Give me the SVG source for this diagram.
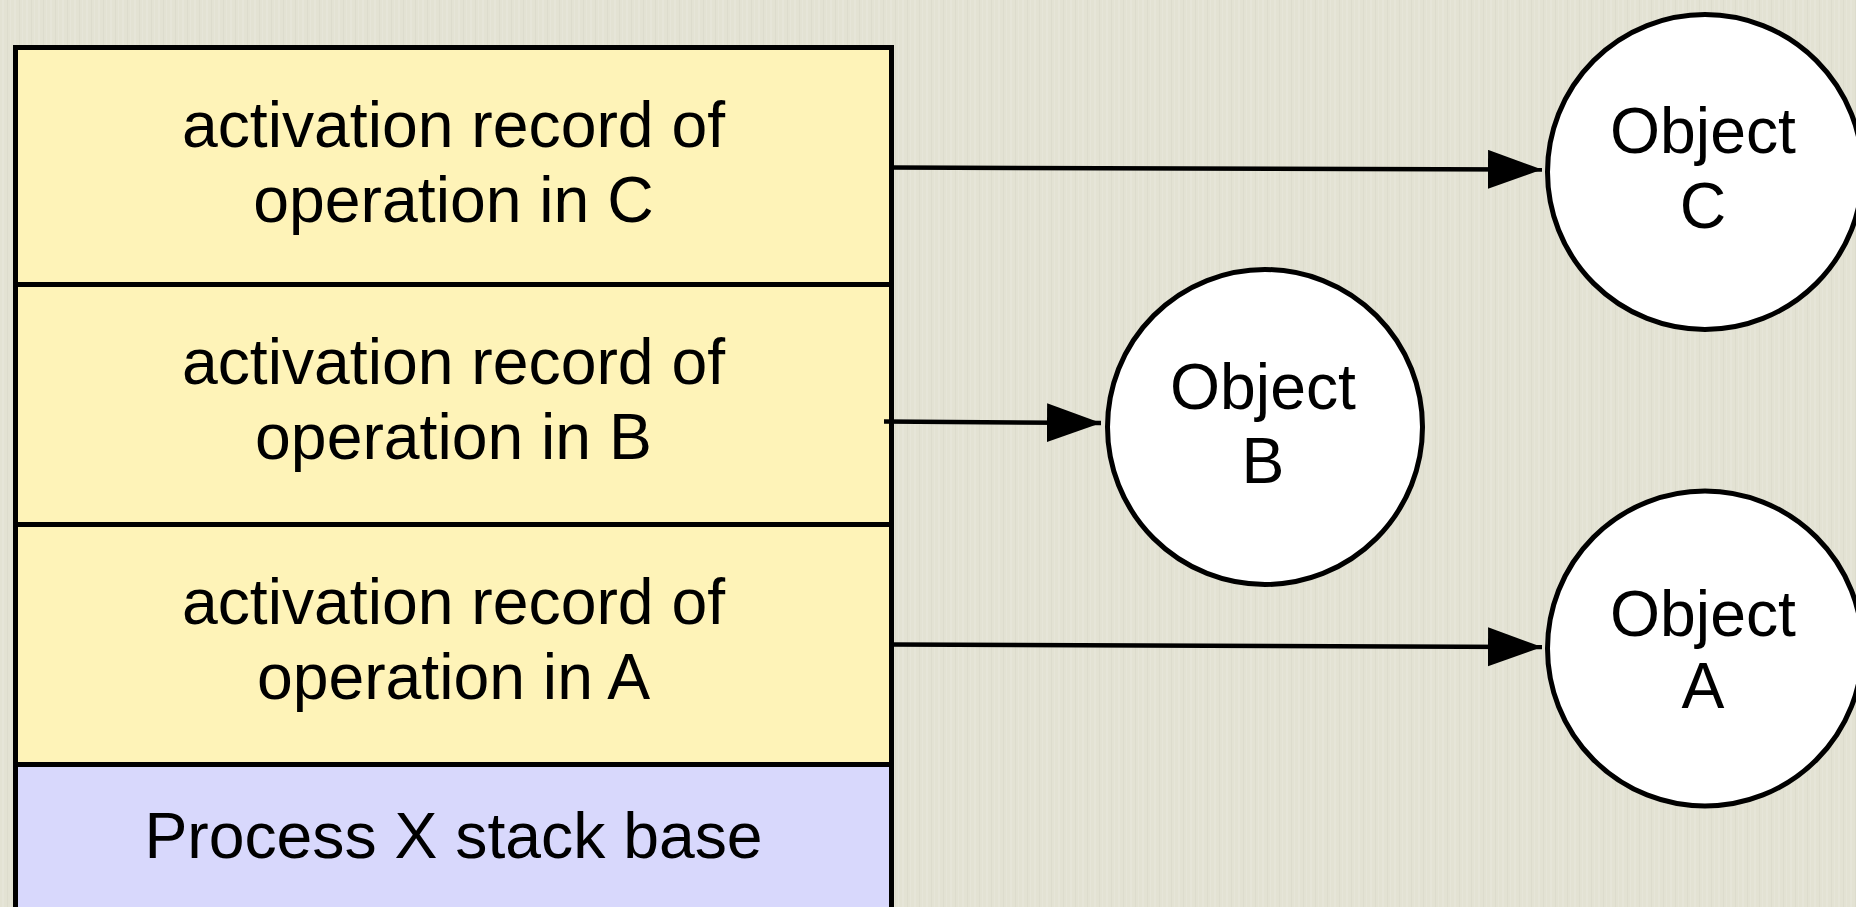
<svg xmlns="http://www.w3.org/2000/svg" width="1856" height="907" viewBox="0 0 1856 907">
<defs>
<pattern id="tex" width="12" height="907" patternUnits="userSpaceOnUse">
<rect width="12" height="907" fill="#e3e2d3"/>
<rect x="2" width="2" height="907" fill="#e7e6d9" opacity="0.8"/>
<rect x="7" width="1" height="907" fill="#dcdbcc" opacity="0.8"/>
<rect x="10" width="1" height="907" fill="#e8e7db" opacity="0.7"/>
</pattern>
<marker id="arr" markerUnits="userSpaceOnUse" markerWidth="56" markerHeight="40" refX="54" refY="19.5" orient="auto">
<path d="M0,0 L54,19.5 L0,39 Z" fill="#000"/>
</marker>
<style>
.rec{fill:#fef3b8;stroke:#000;stroke-width:5}
.base{fill:#d8d8fc;stroke:#000;stroke-width:5}
.obj{fill:#fff;stroke:#000;stroke-width:5}
.t{font-family:"Liberation Sans",Arial,Helvetica,sans-serif;font-size:64.3px;fill:#000;text-anchor:middle}
.c{stroke:#000;stroke-width:4.5;fill:none;marker-end:url(#arr)}
</style>
</defs>
<rect width="1856" height="907" fill="url(#tex)"/>
<g id="base">
<rect class="base" x="15.5" y="764.5" width="876" height="160"/>
<text class="t" x="453.5" y="858">Process X stack base</text>
</g>
<g id="recA">
<rect class="rec" x="15.5" y="524.5" width="876" height="240"/>
<text class="t" x="453.5" y="623.5">activation record of</text>
<text class="t" x="453.5" y="698.5">operation in A</text>
</g>
<g id="recB">
<rect class="rec" x="15.5" y="284.5" width="876" height="240"/>
<text class="t" x="453.5" y="384">activation record of</text>
<text class="t" x="453.5" y="459">operation in B</text>
</g>
<g id="recC">
<rect class="rec" x="15.5" y="47.5" width="876" height="237"/>
<text class="t" x="453.5" y="146.7">activation record of</text>
<text class="t" x="453.5" y="221.7">operation in C</text>
</g>
<g id="objC">
<circle class="obj" cx="1705" cy="172" r="157.5"/>
<text class="t" x="1703" y="153">Object</text>
<text class="t" x="1703" y="228">C</text>
</g>
<g id="objB">
<circle class="obj" cx="1265" cy="427" r="157.5"/>
<text class="t" x="1263" y="409">Object</text>
<text class="t" x="1263" y="483">B</text>
</g>
<g id="objA">
<circle class="obj" cx="1705" cy="648.5" r="157.5"/>
<text class="t" x="1703" y="636">Object</text>
<text class="t" x="1703" y="708">A</text>
</g>
<g id="connectors">
<line class="c" x1="891.5" y1="167.5" x2="1542" y2="169.5"/>
<line class="c" x1="884" y1="421.5" x2="1101" y2="423"/>
<line class="c" x1="891.5" y1="644.5" x2="1542" y2="647"/>
</g>
</svg>
